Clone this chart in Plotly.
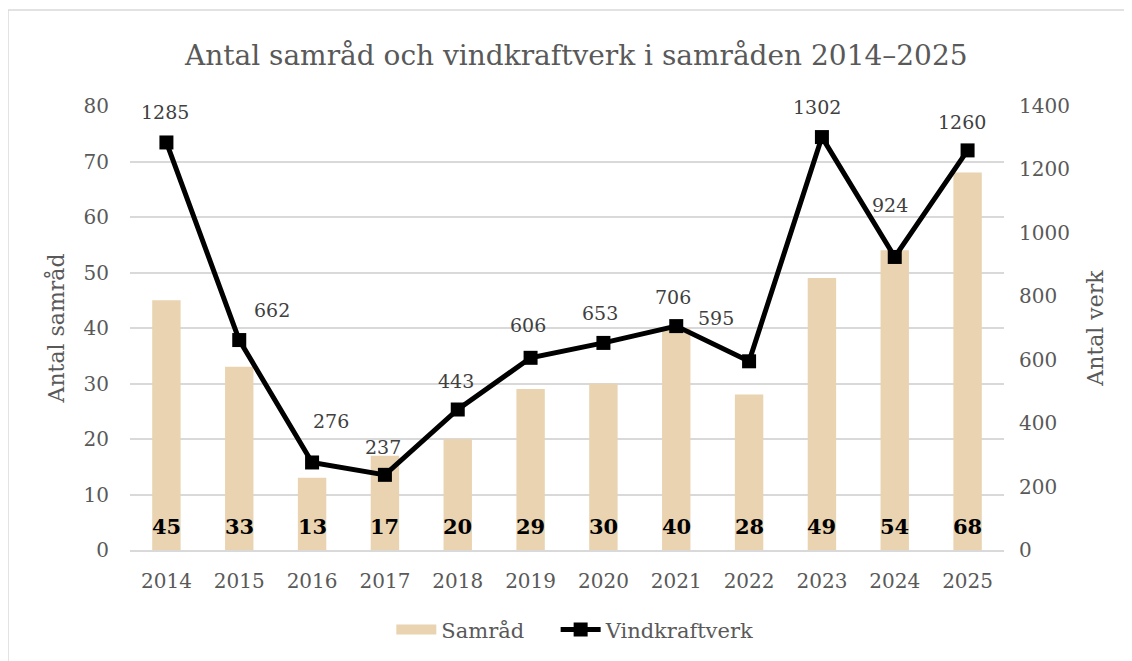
import plotly.graph_objects as go

years = [2014, 2015, 2016, 2017, 2018, 2019, 2020, 2021, 2022, 2023, 2024, 2025]
year_labels = ["2014", "2015", "2016", "2017", "2018", "2019", "2020", "2021", "2022", "2023", "2024", "2025"]
samrad = [45, 33, 13, 17, 20, 29, 30, 40, 28, 49, 54, 68]
vindkraftverk = [1285, 662, 276, 237, 443, 606, 653, 706, 595, 1302, 924, 1260]

# label offsets (pixels) for the line labels, as placed in the original
label_xshift = [-1, 33, 19, -2, -2, -3, -3, -3, -33, -5, -5, -6]
label_yshift = [30, 30, 41, 28, 29, 33, 30, 29, 43, 30, 52, 28]

FONT = "Georgia, 'DejaVu Serif', serif"
GREY = "#595959"
BAR_COLOR = "#EAD3B1"

fig = go.Figure()
fig.add_trace(go.Bar(
    x=years, y=samrad, name="Samråd", showlegend=False,
    marker=dict(color=BAR_COLOR, line=dict(width=0)),
    width=0.39,
))
# legend swatch for the bars (wide rectangle, as in the original)
fig.add_trace(go.Scatter(
    x=[None], y=[None], name="Samråd", mode="lines", legend="legend",
    line=dict(color=BAR_COLOR, width=14),
))
fig.add_trace(go.Scatter(
    x=years, y=vindkraftverk, name="Vindkraftverk", yaxis="y2",
    mode="lines+markers", legend="legend2",
    line=dict(color="black", width=5),
    marker=dict(symbol="square", size=14, color="black"),
))

annotations = []
for yr, v, dx, dy in zip(years, vindkraftverk, label_xshift, label_yshift):
    annotations.append(dict(
        x=yr, y=v, xref="x", yref="y2", text=str(v), showarrow=False,
        xshift=dx, yshift=dy, font=dict(family=FONT, size=19, color="#404040"),
    ))
for yr, v in zip(years, samrad):
    annotations.append(dict(
        x=yr, y=0, xref="x", yref="y", text=f"<b>{v}</b>", showarrow=False,
        yanchor="bottom", yshift=9, font=dict(family=FONT, size=21, color="black"),
    ))

legend_common = dict(orientation="h", xanchor="left", y=-0.18, yanchor="middle",
                     font=dict(size=21, color=GREY), itemwidth=40,
                     bgcolor="rgba(0,0,0,0)")

fig.update_layout(
    width=1132, height=661,
    margin=dict(l=122, r=136, t=98, b=119),
    paper_bgcolor="white", plot_bgcolor="white",
    font=dict(family=FONT, color=GREY, size=20),
    title=dict(text="Antal samråd och vindkraftverk i samråden 2014–2025",
               x=0.502, xanchor="center", y=0.929, yanchor="middle",
               font=dict(family=FONT, size=28, color=GREY)),
    xaxis=dict(type="linear", range=[years[0] - 0.5, years[-1] + 0.5],
               tickmode="array", tickvals=years, ticktext=year_labels,
               showgrid=False, showline=True, linecolor="#D9D9D9", linewidth=1.5,
               zeroline=False, ticks="", ticklabelstandoff=12,
               tickfont=dict(size=20, color=GREY)),
    yaxis=dict(range=[0, 80], dtick=10, showgrid=True, gridcolor="#D9D9D9", gridwidth=1.5,
               zeroline=False, ticks="", ticklabelstandoff=20,
               tickfont=dict(size=20, color=GREY),
               title=dict(text="Antal samråd", font=dict(size=22, color=GREY), standoff=12)),
    yaxis2=dict(range=[0, 1400], dtick=200, overlaying="y", side="right", showgrid=False,
                zeroline=False, ticks="", ticklabelstandoff=14,
                tickfont=dict(size=20, color=GREY),
                title=dict(text="Antal verk", font=dict(size=22, color=GREY), standoff=18)),
    legend=dict(x=0.299, **legend_common),
    legend2=dict(x=0.487, **legend_common),
    annotations=annotations,
    shapes=[dict(type="rect", xref="paper", yref="paper",
                 x0=-0.1396, x1=1.2, y0=-0.4, y1=1.216,
                 line=dict(color="#D9D9D9", width=1.5), fillcolor="rgba(0,0,0,0)",
                 layer="below")],
)

fig.write_html("out.html")
